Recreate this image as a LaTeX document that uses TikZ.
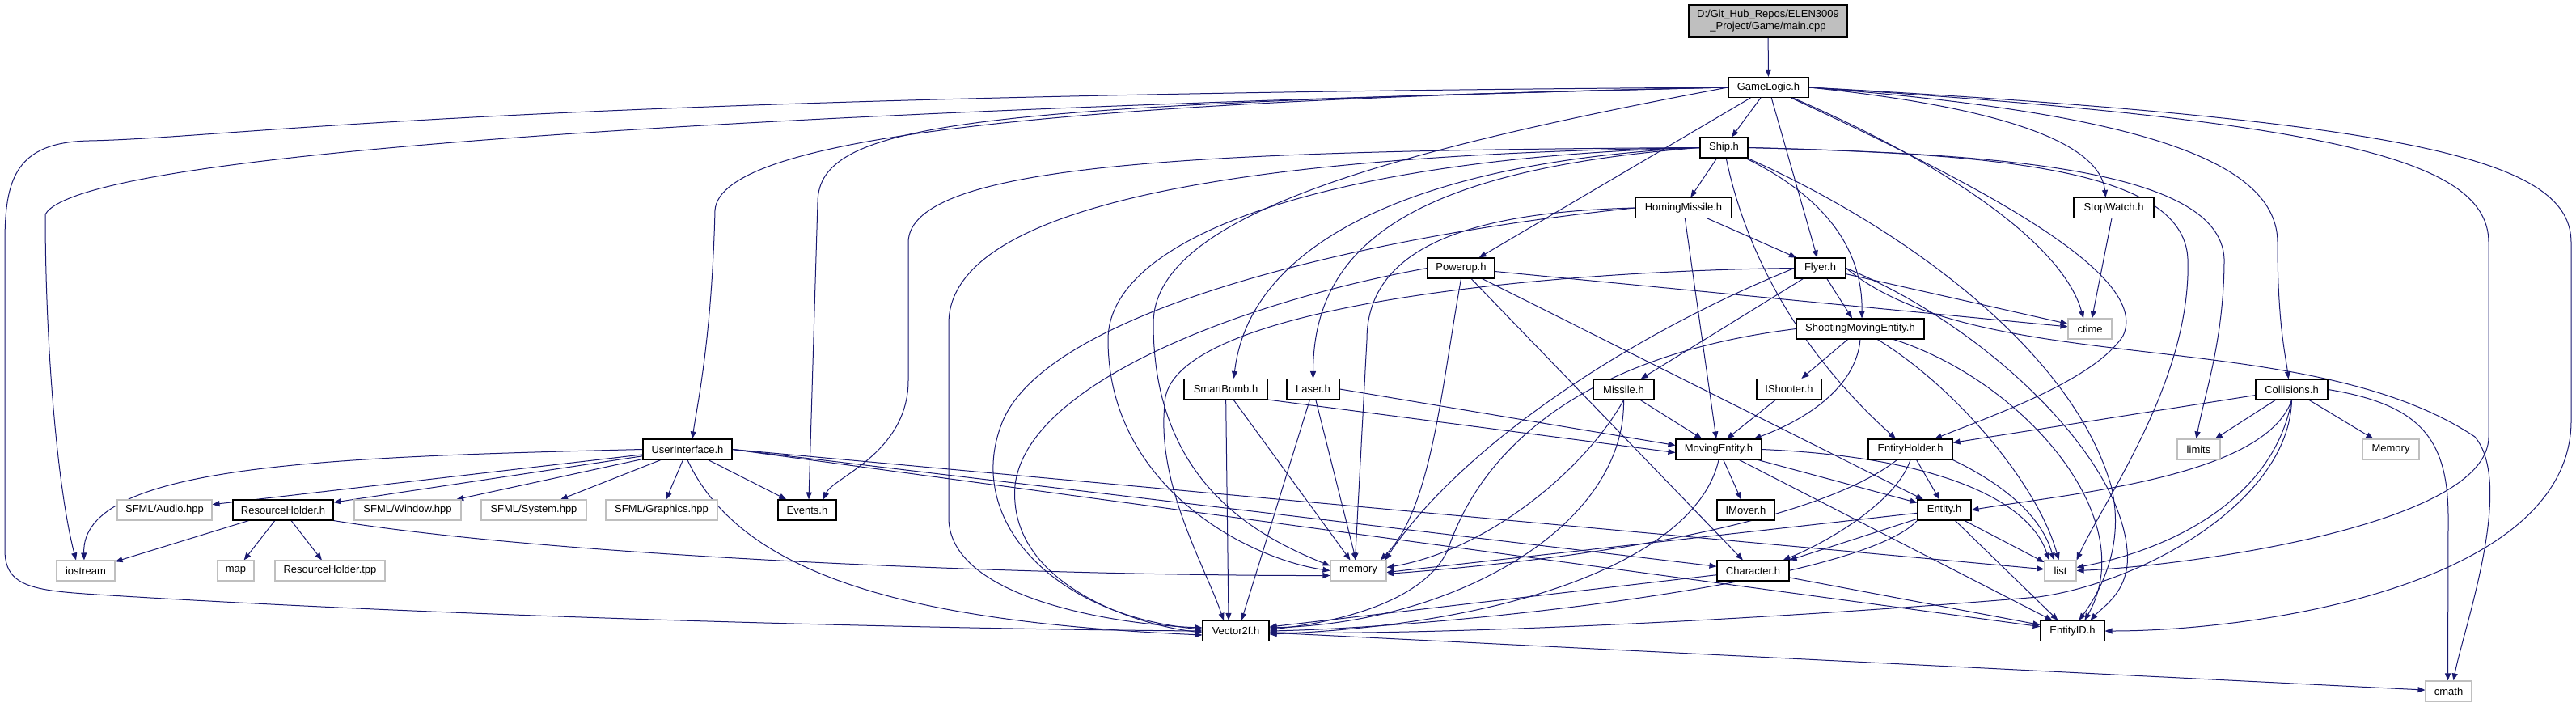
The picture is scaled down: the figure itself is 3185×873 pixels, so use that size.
\documentclass[tikz,border=0pt]{standalone}
\usepackage{fontspec}
\setmainfont{Liberation Sans}
\usetikzlibrary{arrows.meta}
\definecolor{edgeblue}{HTML}{191970}
\definecolor{sysgray}{HTML}{BFBFBF}
\pgfdeclarelayer{bg}
\pgfsetlayers{bg,main}

\begin{document}
\begin{tikzpicture}[x=1pt, y=-1pt, >={Triangle[length=9pt,width=7pt]},
    every node/.style={font=\fontsize{13}{15}\selectfont, minimum height=25pt, inner xsep=2pt, inner ysep=0pt, fill=white},
    hdr/.style={draw=black, line width=1.1pt},
    sys/.style={draw=sysgray, line width=1.1pt},
    dep/.style={->, draw=edgeblue, line width=1pt}]
    \useasboundingbox (0,0) rectangle (3185,873);

    % 文件节点
    \node[hdr, fill=sysgray, minimum width=196pt, minimum height=40pt, align=center] (main) at (2186,26) {D:/Git\_Hub\_Repos/ELEN3009\\\_Project/Game/main.cpp};
    \node[hdr, minimum width=99pt] (gl) at (2186.5,108) {GameLogic.h};
    \node[hdr, minimum width=59pt] (ship) at (2131.5,182.5) {Ship.h};
    \node[hdr, minimum width=119pt] (homing) at (2081.5,257) {HomingMissile.h};
    \node[hdr, minimum width=99pt] (stopw) at (2613.5,257) {StopWatch.h};
    \node[hdr, minimum width=63pt] (flyer) at (2250.5,331.5) {Flyer.h};
    \node[hdr, minimum width=83pt] (powerup) at (1806.5,331.5) {Powerup.h};
    \node[hdr, minimum width=158pt] (sme) at (2300,406.5) {ShootingMovingEntity.h};
    \node[sys, minimum width=54pt] (ctime) at (2584,406.5) {ctime};
    \node[hdr, minimum width=103pt] (smart) at (1515.5,481) {SmartBomb.h};
    \node[hdr, minimum width=65pt] (laser) at (1623.5,481) {Laser.h};
    \node[hdr, minimum width=75pt] (missile) at (2007.5,481.5) {Missile.h};
    \node[hdr, minimum width=80pt] (ishooter) at (2212,481) {IShooter.h};
    \node[hdr, minimum width=89pt] (coll) at (2833.5,481.5) {Collisions.h};
    \node[hdr, minimum width=110pt] (ui) at (850,555.5) {UserInterface.h};
    \node[hdr, minimum width=106pt] (moving) at (2125,555.5) {MovingEntity.h};
    \node[hdr, minimum width=104pt] (holder) at (2362,555.5) {EntityHolder.h};
    \node[sys, minimum width=53pt] (limits) at (2718.5,555.5) {limits};
    \node[sys, minimum width=70pt] (memU) at (2956,555.5) {Memory};
    \node[sys, minimum width=117pt] (audio) at (203.5,630.5) {SFML/Audio.hpp};
    \node[hdr, minimum width=124pt] (resh) at (350,630.5) {ResourceHolder.h};
    \node[sys, minimum width=132pt] (window) at (504,630.5) {SFML/Window.hpp};
    \node[sys, minimum width=130pt] (system) at (660,630.5) {SFML/System.hpp};
    \node[sys, minimum width=138pt] (graphics) at (818,630.5) {SFML/Graphics.hpp};
    \node[hdr, minimum width=72pt] (events) at (998,630.5) {Events.h};
    \node[hdr, minimum width=71pt] (imover) at (2158.5,630.5) {IMover.h};
    \node[hdr, minimum width=66pt] (entity) at (2404,630.5) {Entity.h};
    \node[sys, minimum width=72pt] (iostream) at (106,705.5) {iostream};
    \node[sys, minimum width=45pt] (map) at (291.5,705.5) {map};
    \node[sys, minimum width=136pt] (tpp) at (408,705.5) {ResourceHolder.tpp};
    \node[sys, minimum width=69pt] (memory) at (1679.5,705.5) {memory};
    \node[hdr, minimum width=89pt] (character) at (2167.5,705.5) {Character.h};
    \node[sys, minimum width=39pt] (list) at (2547.5,705.5) {list};
    \node[hdr, minimum width=82pt] (vec) at (1528,780) {Vector2f.h};
    \node[hdr, minimum width=79pt] (eid) at (2562.5,780) {EntityID.h};
    \node[sys, minimum width=57pt] (cmath) at (3027.5,854.5) {cmath};

    \begin{pgfonlayer}{bg}
    % 直线依赖
    \foreach \s/\t in {main/gl, gl/ship, gl/flyer, gl/powerup, ship/homing, homing/flyer,
        stopw/ctime, flyer/ctime, flyer/missile, powerup/ctime, powerup/character, powerup/entity,
        missile/moving, sme/ishooter, coll/holder, coll/limits, coll/memU, moving/imover,
        moving/entity, entity/list, character/eid, resh/iostream, resh/map, resh/tpp, vec/cmath,
        ui/audio, ui/resh, ui/window, ui/system, ui/graphics, ui/events}
        \draw[dep] (\s) -- (\t);
    \draw[dep] (homing) -- ([xshift=-3pt]moving.north);
    \draw[dep] (flyer) -- ([xshift=-10pt]sme.north);
    \draw[dep] (ishooter) -- ([xshift=10pt]moving.north);
    \draw[dep] (smart.south east) -- ([yshift=-4pt]moving.west);
    \draw[dep] (laser.east) -- ([yshift=5pt]moving.west);
    \draw[dep] (smart) -- ([xshift=-10pt]memory.north);
    \draw[dep] (smart) -- ([xshift=-9pt]vec.north);
    \draw[dep] (laser) -- ([xshift=-3pt]memory.north);
    \draw[dep] (laser) -- ([xshift=7pt]vec.north);
    \draw[dep] (holder) -- ([xshift=-6pt]entity.north);
    \draw[dep] (moving) -- ([xshift=-25pt]eid.north);
    \draw[dep] (entity) -- ([xshift=-18pt]eid.north);
    \draw[dep] (entity) -- (character.north east);
    \draw[dep] (entity) -- ([yshift=-2pt]memory.east);
    \draw[dep] (character) -- ([yshift=5pt]vec.east);
    \draw[dep] (ui.east) -- (list);
    \draw[dep] (ui.east) -- (character);
    \draw[dep] (ui.east) -- (eid);

    % GameLogic.h
    \draw[dep] (gl.west) .. controls (600,118) and (300,170) .. (110,174) .. controls (20,176) and (6,220) .. (6,300) -- (6,680) .. controls (6,725) and (40,730) .. (120,735) .. controls (600,765) and (1200,778) .. (vec.west);
    \draw[dep] (gl.west) .. controls (1000,135) and (100,185) .. (56,265) .. controls (56,420) and (70,600) .. ([xshift=-12pt]iostream.north);
    \draw[dep] (gl.west) .. controls (1300,125) and (890,170) .. (884,260) .. controls (880,420) and (862,500) .. ([xshift=6pt]ui.north);
    \draw[dep] (gl.west) .. controls (1200,130) and (1012,150) .. (1011,250) -- ([xshift=2pt]events.north);
    \draw[dep] (gl.west) .. controls (1700,190) and (1426,270) .. (1426,400) .. controls (1426,600) and (1560,665) .. ([yshift=6pt]memory.west);
    \draw[dep] (gl) .. controls (2400,200) and (2550,300) .. ([xshift=-8pt]ctime.north);
    \draw[dep] (gl) .. controls (2450,230) and (2660,340) .. (2625,415) .. controls (2590,470) and (2460,515) .. ([xshift=30pt]holder.north);
    \draw[dep] (gl.east) .. controls (2450,130) and (2595,170) .. ([xshift=-10pt]stopw.north);
    \draw[dep] (gl.east) .. controls (2650,140) and (2816,200) .. (2816,300) .. controls (2816,400) and (2826,440) .. ([xshift=-4pt]coll.north);
    \draw[dep] (gl.east) .. controls (2900,150) and (3077,200) .. (3077,300) -- (3077,540) .. controls (3077,650) and (2700,700) .. (list.east);
    \draw[dep] (gl.east) .. controls (3000,150) and (3179,200) .. (3179,300) -- (3179,520) .. controls (3179,720) and (2800,780) .. (eid.east);

    % Ship.h
    \draw[dep] (ship) .. controls (2270,250) and (2303,320) .. ([xshift=2pt]sme.north);
    \draw[dep] (ship) .. controls (2160,320) and (2230,440) .. ([xshift=-18pt]holder.north);
    \draw[dep] (ship.west) .. controls (1500,186) and (1123,200) .. (1123,300) -- (1123,470) .. controls (1123,560) and (1030,590) .. ([xshift=20pt]events.north);
    \draw[dep] (ship.west) .. controls (1600,190) and (1173,240) .. (1173,400) -- (1173,640) .. controls (1173,740) and (1380,772) .. ([yshift=4pt]vec.west);
    \draw[dep] (ship.west) .. controls (1650,195) and (1370,290) .. (1370,420) .. controls (1370,600) and (1540,690) .. (memory.west);
    \draw[dep] (ship.west) .. controls (1750,200) and (1545,300) .. ([xshift=10pt]smart.north);
    \draw[dep] (ship.west) .. controls (1750,210) and (1624,300) .. (laser.north);
    \draw[dep] (ship.east) .. controls (2450,190) and (2745,205) .. (2750,320) .. controls (2750,420) and (2725,490) .. ([xshift=-3pt]limits.north);
    \draw[dep] (ship.east) .. controls (2450,190) and (2700,205) .. (2705,320) .. controls (2710,470) and (2600,620) .. (list.north east);
    \draw[dep] (ship) .. controls (2350,280) and (2560,430) .. (2610,600) .. controls (2630,680) and (2590,740) .. ([xshift=8pt]eid.north);

    % HomingMissile.h, Powerup.h
    \draw[dep] (homing.west) .. controls (1830,262) and (1690,300) .. (1690,420) -- ([xshift=-4pt]memory.north);
    \draw[dep] (homing.west) .. controls (1700,290) and (1300,380) .. (1240,520) .. controls (1190,640) and (1300,760) .. ([yshift=2pt]vec.west);
    \draw[dep] (powerup.south) .. controls (1782,480) and (1770,630) .. ([xshift=-8pt]memory.north east);
    \draw[dep] (powerup.west) .. controls (1550,370) and (1270,470) .. (1255,600) .. controls (1245,720) and (1400,772) .. ([yshift=-2pt]vec.west);

    % Flyer.h
    \draw[dep] (flyer.west) .. controls (2000,420) and (1800,560) .. ([xshift=-2pt]memory.north east);
    \draw[dep] (flyer.west) .. controls (1900,335) and (1440,380) .. (1440,500) .. controls (1430,600) and (1490,700) .. ([xshift=-15pt]vec.north);
    \draw[dep] (flyer.east) .. controls (2450,470) and (2850,400) .. (3060,540) .. controls (3110,600) and (3045,780) .. ([xshift=6pt]cmath.north);
    \draw[dep] (flyer.east) .. controls (2450,400) and (2620,560) .. (2630,680) .. controls (2635,730) and (2600,750) .. ([xshift=22pt]eid.north);

    % Missile.h, ShootingMovingEntity.h
    \draw[dep] (missile.south) .. controls (1960,580) and (1840,680) .. ([yshift=4pt]memory.east);
    \draw[dep] (missile.south) .. controls (2010,650) and (1800,770) .. ([yshift=4pt]vec.east);
    \draw[dep] (sme.south) .. controls (2295,480) and (2230,520) .. ([xshift=-10pt]moving.north east);
    \draw[dep] (sme.west) .. controls (1950,440) and (1830,560) .. (1790,680) .. controls (1760,745) and (1650,770) .. ([yshift=2pt]vec.east);
    \draw[dep] (sme) .. controls (2420,480) and (2520,600) .. ([xshift=-2pt]list.north);
    \draw[dep] (sme) .. controls (2500,470) and (2650,640) .. ([xshift=15pt]eid.north);

    % Collisions.h
    \draw[dep] (coll.east) .. controls (2990,500) and (3027,540) .. (3027,640) -- ([xshift=-1pt]cmath.north);
    \draw[dep] (coll.south) .. controls (2800,590) and (2560,610) .. (entity.east);
    \draw[dep] (coll.south) .. controls (2810,620) and (2680,680) .. ([yshift=4pt]list.east);
    \draw[dep] (coll.south) .. controls (2830,620) and (2650,720) .. (2520,738) .. controls (2200,765) and (1800,785) .. ([yshift=-2pt]vec.east);

    % EntityHolder.h, MovingEntity.h, Entity.h
    \draw[dep] (holder.south) .. controls (2345,620) and (2260,670) .. ([xshift=-8pt]character.north east);
    \draw[dep] (holder) .. controls (2280,620) and (2100,680) .. ([yshift=-4pt]memory.east);
    \draw[dep] (holder.south east) .. controls (2480,600) and (2525,640) .. ([xshift=-8pt]list.north);
    \draw[dep] (moving.east) .. controls (2400,565) and (2510,620) .. ([xshift=-14pt]list.north);
    \draw[dep] (moving.south) .. controls (2100,680) and (1900,770) .. ([yshift=-4pt]vec.east);
    \draw[dep] (entity.south west) .. controls (2300,720) and (1800,775) .. (vec.east);

    % UserInterface.h, ResourceHolder.h
    \draw[dep] (ui.west) .. controls (400,565) and (100,575) .. ([xshift=-2pt]iostream.north);
    \draw[dep] (ui.south) .. controls (920,720) and (1150,770) .. ([yshift=-5pt]vec.west);
    \draw[dep] (resh.south east) .. controls (700,690) and (1300,712) .. ([yshift=-6pt]memory.west);
    \end{pgfonlayer}
\end{tikzpicture}
\end{document}
